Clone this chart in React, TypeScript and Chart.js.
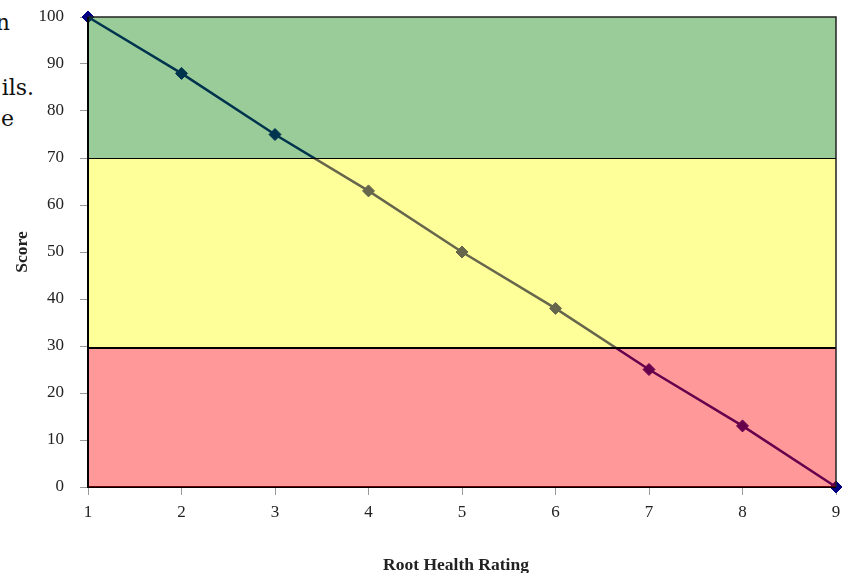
import React, { useEffect, useRef } from "react";
import { Chart, registerables } from "chart.js";

Chart.register(...registerables);

const ratings = [1, 2, 3, 4, 5, 6, 7, 8, 9];
const scores = [100, 88, 75, 63, 50, 38, 25, 13, 0];
const bandBounds = [0, 29.6, 70, 100];
const bandColors = ["rgba(255,0,0,0.4)", "rgba(255,255,0,0.4)", "rgba(0,128,0,0.4)"];
const xTitle = "Root Health Rating";
const yTitle = "Score";
const sideTexts = [
  { text: "n", right: 842, top: 12 },
  { text: "ils.", right: 818, top: 77 },
  { text: "e", right: 838, top: 108 },
];

const SERIF = "'Liberation Serif', 'Times New Roman', serif";

const bandsPlugin = {
  id: "bands",
  afterDatasetsDraw(chart: any) {
    const { ctx, chartArea } = chart;
    const y = chart.scales.y;
    const { left, right, top, bottom } = chartArea;
    ctx.save();
    ctx.strokeStyle = "#000";
    ctx.lineWidth = 2;
    ctx.beginPath();
    ctx.moveTo(left, bottom);
    ctx.lineTo(right, bottom);
    ctx.stroke();
    for (let i = 0; i < bandColors.length; i++) {
      const y0 = y.getPixelForValue(bandBounds[i]);
      const y1 = y.getPixelForValue(bandBounds[i + 1]);
      ctx.fillStyle = bandColors[i];
      ctx.fillRect(left, y1, right - left, y0 - y1);
    }
    ctx.strokeStyle = "#000";
    const yb1 = y.getPixelForValue(bandBounds[1]);
    ctx.lineWidth = 2;
    ctx.beginPath();
    ctx.moveTo(left, yb1);
    ctx.lineTo(right, yb1);
    ctx.stroke();
    const yb2 = y.getPixelForValue(bandBounds[2]);
    ctx.lineWidth = 1;
    ctx.beginPath();
    ctx.moveTo(left, Math.round(yb2) + 0.5);
    ctx.lineTo(right, Math.round(yb2) + 0.5);
    ctx.stroke();
    ctx.lineWidth = 1.5;
    ctx.strokeStyle = "#222";
    ctx.beginPath();
    ctx.moveTo(left, top);
    ctx.lineTo(right, top);
    ctx.lineTo(right, bottom);
    ctx.stroke();
    ctx.lineWidth = 2;
    ctx.strokeStyle = "#000";
    ctx.beginPath();
    ctx.moveTo(left, top);
    ctx.lineTo(left, bottom + 1);
    ctx.stroke();
    ctx.restore();
  },
  afterDraw(chart: any) {
    const { ctx } = chart;
    ctx.save();
    ctx.fillStyle = "#222";
    ctx.font = `bold 17.5px ${SERIF}`;
    ctx.textAlign = "center";
    ctx.textBaseline = "alphabetic";
    ctx.fillText(xTitle, 456, 570);
    ctx.translate(27, 252);
    ctx.rotate(-Math.PI / 2);
    ctx.fillText(yTitle, 0, 0);
    ctx.restore();
  },
};

export default function App() {
  const ref = useRef<HTMLCanvasElement | null>(null);
  useEffect(() => {
    if (!ref.current) return;
    const font = { family: SERIF, size: 17 };
    const chart = new Chart(ref.current, {
      type: "line",
      data: {
        datasets: [
          {
            data: ratings.map((r, i) => ({ x: r, y: scores[i] })),
            borderColor: "#000080",
            backgroundColor: "#000080",
            borderWidth: 2.5,
            pointStyle: "rectRot",
            pointRadius: 6,
            pointBorderWidth: 1,
            pointBackgroundColor: "#000080",
            pointBorderColor: "#000080",
            clip: false as any,
            tension: 0,
          },
        ],
      },
      options: {
        animation: false,
        responsive: true,
        maintainAspectRatio: false,
        layout: { autoPadding: false, padding: { top: 17, right: 16, left: 0, bottom: 0 } },
        plugins: { legend: { display: false }, tooltip: { enabled: false } },
        scales: {
          x: {
            type: "linear",
            min: 1,
            max: 9,
            ticks: { stepSize: 1, color: "#222", font, padding: 7 },
            grid: { drawOnChartArea: false, drawTicks: true, tickLength: 8, color: "#999" },
            border: { display: false },
            afterFit: (s: any) => {
              s.height = 86;
              s.paddingLeft = 0;
              s.paddingRight = 0;
            },
          },
          y: {
            min: 0,
            max: 100,
            ticks: { stepSize: 10, color: "#222", font, padding: 16 },
            grid: { drawOnChartArea: false, drawTicks: true, tickLength: 8, color: "#999" },
            border: { display: false },
            afterFit: (s: any) => {
              s.width = 88;
              s.paddingTop = 0;
              s.paddingBottom = 0;
            },
          },
        },
      },
      plugins: [bandsPlugin],
    });
    return () => chart.destroy();
  }, []);

  return (
    <div style={{ position: "absolute", left: 0, top: 0, width: 852, height: 573, overflow: "hidden", background: "#fff" }}>
      {sideTexts.map((t, i) => (
        <div
          key={i}
          style={{
            position: "absolute",
            right: t.right,
            top: t.top,
            fontFamily: "'DejaVu Serif', serif",
            fontSize: 22,
            lineHeight: "22px",
            color: "#111",
            whiteSpace: "nowrap",
          }}
        >
          {t.text}
        </div>
      ))}
      <div style={{ position: "absolute", left: 0, top: 0, width: 852, height: 573 }}>
        <canvas ref={ref} />
      </div>
    </div>
  );
}
